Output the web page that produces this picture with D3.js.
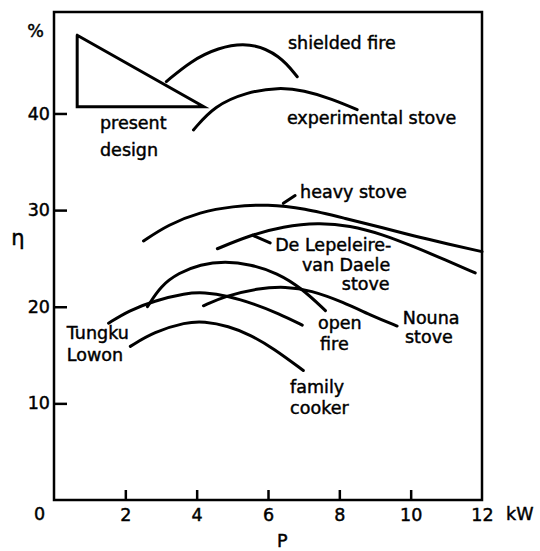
<!DOCTYPE html>
<html>
<head>
<meta charset="utf-8">
<script src="https://cdn.jsdelivr.net/npm/d3@7"></script>
<style>
  body { margin: 0; background: #fff; }
  text { font-family: "DejaVu Sans", sans-serif; font-size: 17.5px; fill: #000; stroke: #000; stroke-width: 0.45px; }
  .curve { fill: none; stroke: #000; stroke-width: 3px; stroke-linecap: round; }
</style>
</head>
<body>
<div id="chart"></div>
<script>
// Efficiency (%) vs power (kW)
const shieldedFire = [[3.15, 43.3], [3.83, 45.4], [4.58, 46.8], [5.5, 47.4], [6.34, 46.0], [6.82, 43.8]];
const experimentalStove = [[3.91, 38.3], [4.5, 40.8], [5.4, 42.2], [6.3, 42.7], [7.0, 42.4], [7.8, 41.5], [8.5, 40.4]];
const heavyStove = [[2.51, 26.8], [3.2, 28.5], [4.1, 29.8], [5.0, 30.4], [6.0, 30.6], [7.0, 30.2], [8.2, 29.1], [9.2, 28.2], [10.1, 27.3], [11.05, 26.5], [12.0, 25.7]];
const deLepeleire = [[4.58, 26.0], [5.5, 27.4], [6.43, 28.3], [7.4, 28.7], [8.3, 28.4], [9.2, 27.5], [10.1, 26.2], [11.0, 24.8], [11.81, 23.5]];
const openFire = [[2.62, 20.0], [3.0, 22.2], [3.5, 23.5], [4.1, 24.4], [4.8, 24.7], [5.5, 24.4], [6.26, 23.5], [6.95, 21.9], [7.61, 19.6]];
const tungkuLowon = [[1.53, 18.3], [2.1, 19.6], [2.8, 20.6], [3.7, 21.4], [4.2, 21.5], [4.9, 21.1], [5.6, 20.3], [6.3, 19.3], [6.96, 18.1]];
const nounaStove = [[4.19, 20.1], [4.8, 21.1], [5.7, 21.9], [6.5, 22.1], [7.2, 21.7], [8.1, 20.5], [8.95, 19.0], [9.62, 18.0]];
const familyCooker = [[2.14, 15.9], [2.8, 17.4], [3.7, 18.4], [4.2, 18.5], [4.9, 18.0], [5.5, 17.1], [6.15, 15.7], [6.99, 13.4]];
const presentDesign = [[0.65, 48.1], [0.65, 40.7], [4.2, 40.7], [0.65, 48.1]];

const curves = [shieldedFire, experimentalStove, heavyStove, deLepeleire, openFire, tungkuLowon, nounaStove, familyCooker];

// short pointer strokes from labels to curves
const leaders = [
  [[6.43, 30.7], [6.76, 31.5]],
  [[5.56, 27.4], [6.06, 26.6]]
];

// label text and anchor (data units)
const labels = [
  ["shielded fire", 6.56, 47.3],
  ["experimental stove", 6.53, 39.5],
  ["present", 1.29, 39.0],
  ["design", 1.29, 36.2],
  ["heavy stove", 6.9, 31.9],
  ["De Lepeleire-", 6.2, 26.4],
  ["van Daele", 6.95, 24.3],
  ["stove", 8.07, 22.4],
  ["open", 7.4, 18.3],
  ["fire", 7.46, 16.2],
  ["Nouna", 9.78, 18.8],
  ["stove", 9.84, 16.9],
  ["family", 6.62, 11.7],
  ["cooker", 6.62, 9.5],
  ["Tungku", 0.36, 17.3],
  ["Lowon", 0.36, 15.0]
];

const xTicks = [2, 4, 6, 8, 10, 12];
const yTicks = [10, 20, 30, 40];

const width = 540;
const height = 551;

const svg = d3.select("#chart")
  .append("svg")
  .attr("width", width)
  .attr("height", height);

const x = d3.scaleLinear().domain([0, 12]).range([54, 482]);
const y = d3.scaleLinear().domain([0, 50.5]).range([500, 12]);

// frame
svg.append("rect")
  .attr("x", x(0))
  .attr("y", y(50.5))
  .attr("width", x(12) - x(0))
  .attr("height", y(0) - y(50.5))
  .attr("fill", "none")
  .attr("stroke", "#000")
  .attr("stroke-width", 2.5);

// axes with inward ticks
const xAxis = svg.append("g")
  .attr("transform", `translate(0, ${y(0)})`)
  .call(d3.axisBottom(x).tickValues(xTicks).tickSize(-10).tickPadding(9).tickFormat(d3.format("d")));
xAxis.select(".domain").remove();
xAxis.selectAll(".tick line").attr("stroke-width", 2.5);
xAxis.selectAll(".tick").filter(d => d === 12).select("line").remove();

const yAxis = svg.append("g")
  .attr("transform", `translate(${x(0)}, 0)`)
  .call(d3.axisLeft(y).tickValues(yTicks).tickSize(-13).tickPadding(4).tickFormat(d3.format("d")));
yAxis.select(".domain").remove();
yAxis.selectAll(".tick line").attr("stroke-width", 2.5);

svg.selectAll(".tick text")
  .attr("font-family", null)
  .attr("font-size", null)
  .attr("fill", null);

// axis annotations
svg.append("text").attr("x", x(0) - 20).attr("y", y(0) + 14).attr("dy", "0.35em").text("0");
svg.append("text").attr("x", x(12) + 24).attr("y", y(0) + 14).attr("dy", "0.35em").text("kW");
svg.append("text").attr("x", x(6.4)).attr("y", y(0) + 41).attr("dy", "0.35em").attr("text-anchor", "middle").text("P");
svg.append("text").attr("x", x(0) - 10).attr("y", y(48.5)).attr("dy", "0.35em").attr("text-anchor", "end").text("%");
svg.append("text").attr("x", 18).attr("y", y(27.1)).attr("dy", "0.35em").attr("text-anchor", "middle")
  .style("font-size", "21px").text("η");

// curves
const line = d3.line()
  .x(d => x(d[0]))
  .y(d => y(d[1]))
  .curve(d3.curveBasis);

svg.selectAll(".curve")
  .data(curves)
  .enter()
  .append("path")
  .attr("class", "curve")
  .attr("d", line);

// present design triangle
svg.append("path")
  .datum(presentDesign)
  .attr("class", "curve")
  .attr("stroke-linejoin", "miter")
  .attr("d", d3.line().x(d => x(d[0])).y(d => y(d[1])));

// leaders
svg.selectAll(".leader")
  .data(leaders)
  .enter()
  .append("path")
  .attr("class", "curve")
  .attr("stroke-width", 2.5)
  .attr("d", d3.line().x(d => x(d[0])).y(d => y(d[1])));

// labels
svg.selectAll(".label")
  .data(labels)
  .enter()
  .append("text")
  .attr("class", "label")
  .attr("x", d => x(d[1]))
  .attr("y", d => y(d[2]))
  .attr("dy", "0.35em")
  .text(d => d[0]);
</script>
</body>
</html>
